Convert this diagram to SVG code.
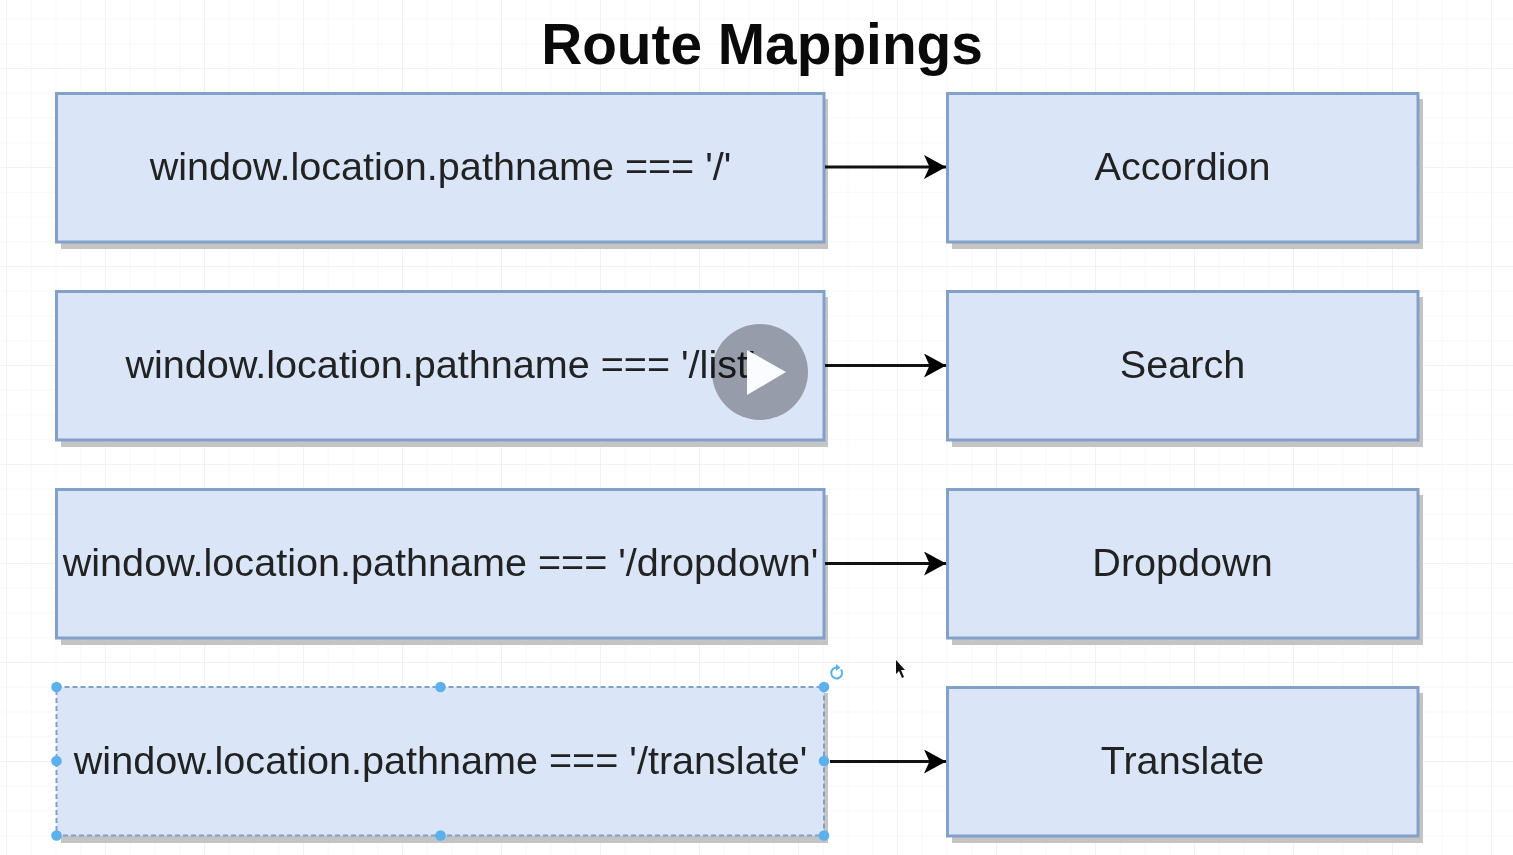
<svg xmlns="http://www.w3.org/2000/svg" width="1513" height="855" viewBox="0 0 1513 855">
<style>
.box{fill:#dae6f8;stroke:#83a0c9;stroke-width:3}
.shadow{fill:#c4c4c4}
.label{font-family:"Liberation Sans",Arial,sans-serif;font-size:39.6px;fill:#222;text-anchor:middle}
.title{font-family:"Liberation Sans",Arial,sans-serif;font-size:56.8px;font-weight:bold;fill:#0a0a0a;text-anchor:middle}
.conn{stroke:#111;stroke-width:3;fill:none;marker-end:url(#arrow)}
.handle{fill:#5db0ee}
</style>
<defs>
<marker id="arrow" markerUnits="userSpaceOnUse" markerWidth="24" markerHeight="26" refX="22" refY="12" orient="auto">
<path d="M0 0L22 12L0 24L5.500 12Z" fill="#000"/>
</marker>
<pattern id="minor" width="24.75" height="24.75" patternUnits="userSpaceOnUse" x="6" y="18.500">
<path d="M0 0H24.750M0 0V24.750" stroke="#f6f6f6" stroke-width="1.500" fill="none"/>
</pattern>
<pattern id="major" width="99" height="99" patternUnits="userSpaceOnUse" x="6" y="68">
<path d="M0 0H99M0 0V99" stroke="#f0f0f0" stroke-width="1.500" fill="none"/>
</pattern>
</defs>
<rect width="1513" height="855" fill="#fff"/>
<rect width="1513" height="855" fill="url(#minor)"/>
<rect width="1513" height="855" fill="url(#major)"/>
<text class="title" x="762" y="64">Route Mappings</text>
<g id="route-root"><rect class="shadow" x="61" y="99" width="767" height="150"/><rect class="box" x="56.500" y="93.500" width="767.500" height="148.500"/><text class="label" x="440.500" y="179.500">window.location.pathname === '/'</text></g>
<g id="route-list"><rect class="shadow" x="61" y="297" width="767" height="150"/><rect class="box" x="56.500" y="291.500" width="767.500" height="148.500"/><text class="label" x="440.500" y="377.500">window.location.pathname === '/list'</text></g>
<g id="route-dropdown"><rect class="shadow" x="61" y="495" width="767" height="150"/><rect class="box" x="56.500" y="489.500" width="767.500" height="148.500"/><text class="label" x="440.500" y="575.500">window.location.pathname === '/dropdown'</text></g>
<g id="route-translate"><rect class="shadow" x="61" y="693" width="767" height="150"/><rect class="box" x="56.500" y="687" width="767.500" height="148.500" stroke-dasharray="5 3" style="stroke-width:2"/><text class="label" x="440.500" y="773.500">window.location.pathname === '/translate'</text></g>
<g id="accordion"><rect class="shadow" x="952" y="99" width="471" height="150"/><rect class="box" x="947.500" y="93.500" width="470.500" height="148.500"/><text class="label" x="1182.500" y="179.500">Accordion</text></g>
<g id="search"><rect class="shadow" x="952" y="297" width="471" height="150"/><rect class="box" x="947.500" y="291.500" width="470.500" height="148.500"/><text class="label" x="1182.500" y="377.500">Search</text></g>
<g id="dropdown"><rect class="shadow" x="952" y="495" width="471" height="150"/><rect class="box" x="947.500" y="489.500" width="470.500" height="148.500"/><text class="label" x="1182.500" y="575.500">Dropdown</text></g>
<g id="translate"><rect class="shadow" x="952" y="693" width="471" height="150"/><rect class="box" x="947.500" y="687.500" width="470.500" height="148.500"/><text class="label" x="1182.500" y="773.500">Translate</text></g>
<g id="connectors">
<path class="conn" d="M825 167H946"/>
<path class="conn" d="M825 365.500H946"/>
<path class="conn" d="M825 563.500H946"/>
<path class="conn" d="M830 761.500H946"/>
</g>
<g id="selection-handles">
<circle class="handle" cx="56.500" cy="687" r="5.300"/><circle class="handle" cx="440.500" cy="687" r="5.300"/><circle class="handle" cx="824" cy="687" r="5.300"/>
<circle class="handle" cx="56.500" cy="761" r="5.300"/><circle class="handle" cx="824" cy="761" r="5.300"/>
<circle class="handle" cx="56.500" cy="835.500" r="5.300"/><circle class="handle" cx="440.500" cy="835.500" r="5.300"/><circle class="handle" cx="824" cy="835.500" r="5.300"/>
<path d="M841 669.500A5.500 5.500 0 1 1 837.500 667.500" fill="none" stroke="#5db0ee" stroke-width="2"/><path d="M836 664V671L840.500 667.500Z" fill="#5db0ee"/>
</g>
<path id="cursor" d="M896 660V674L899 671L902 678L904 677L901 670L905 670Z" fill="#111"/>
<g id="play-button"><circle cx="760" cy="372" r="48" fill="#afadae" style="mix-blend-mode:multiply"/><path d="M747 350V395L786 372Z" fill="#fbfcff"/></g>
</svg>
